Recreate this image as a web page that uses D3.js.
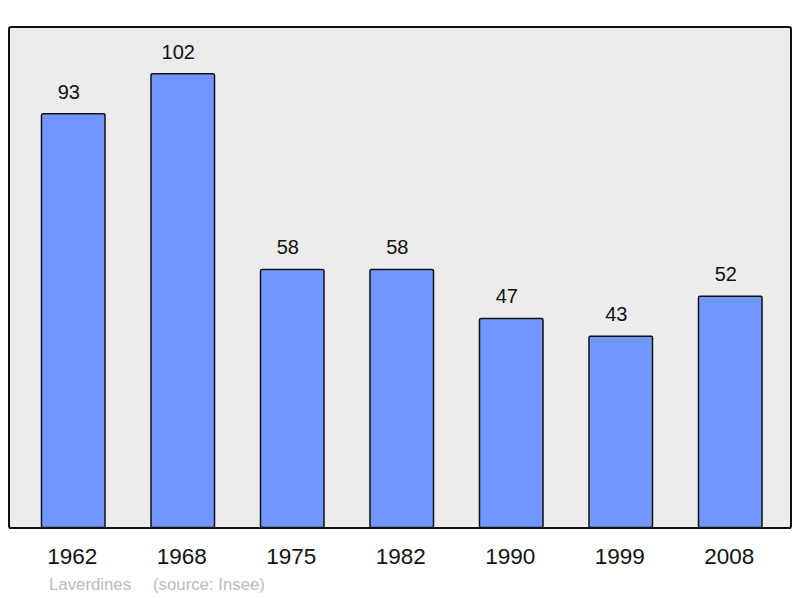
<!DOCTYPE html>
<html>
<head>
<meta charset="utf-8">
<script src="https://cdn.jsdelivr.net/npm/d3@7"></script>
<style>
  body { margin: 0; background: #fff; }
  text { font-family: "Liberation Sans", Arial, sans-serif; }
</style>
</head>
<body>
<script>
// data
var years = ["1962", "1968", "1975", "1982", "1990", "1999", "2008"];
var population = [93, 102, 58, 58, 47, 43, 52];
var commune = "Laverdines";
var source = "(source: Insee)";

var W = 800, H = 598;
var frame = {left: 9, top: 27, right: 791, bottom: 528};

var svg = d3.select("body").append("svg")
    .attr("width", W)
    .attr("height", H);

// plot frame
svg.append("rect")
    .attr("x", frame.left)
    .attr("y", frame.top)
    .attr("width", frame.right - frame.left)
    .attr("height", frame.bottom - frame.top)
    .attr("rx", 2)
    .style("fill", "#ececec")
    .style("stroke", "#111")
    .style("stroke-width", 2);

var x = d3.scaleBand()
    .domain(years)
    .range([18.5, 785])
    .paddingInner(0.42)
    .paddingOuter(0.21);

var y = d3.scaleLinear()
    .domain([0, 112.5])
    .range([527.5, 27]);

var rows = years.map(function(d, i) { return {year: d, value: population[i]}; });

svg.selectAll("rect.bar")
    .data(rows)
    .enter().append("rect")
    .attr("class", "bar")
    .attr("x", function(d) { return x(d.year); })
    .attr("y", function(d) { return y(d.value); })
    .attr("width", x.bandwidth())
    .attr("height", function(d) { return y(0) - y(d.value); })
    .attr("rx", 1.5)
    .style("fill", "#7298ff")
    .style("stroke", "#111")
    .style("stroke-width", 1.5);

// value labels (sit a little left of the bar centre)
svg.selectAll("text.val")
    .data(rows)
    .enter().append("text")
    .attr("class", "val")
    .attr("x", function(d) { return x(d.year) + x.bandwidth() / 2 - 4.5; })
    .attr("y", function(d) { return y(d.value) - 15; })
    .attr("text-anchor", "middle")
    .style("font-size", "20px")
    .style("fill", "#111")
    .text(function(d) { return d.value; });

// redraw the bottom edge on top of the bars
svg.append("line")
    .attr("x1", frame.left).attr("x2", frame.right)
    .attr("y1", frame.bottom).attr("y2", frame.bottom)
    .style("stroke", "#111")
    .style("stroke-width", 2);

// year axis
var xAxis = svg.append("g")
    .attr("transform", "translate(-1," + frame.bottom + ")")
    .call(d3.axisBottom(x).tickSize(0).tickPadding(36));
xAxis.select(".domain").remove();
xAxis.selectAll("text")
    .attr("dy", 0)
    .style("font-family", "'Liberation Sans', Arial, sans-serif")
    .style("font-size", "22.5px")
    .style("fill", "#111");

// footer
svg.append("text")
    .attr("x", 49).attr("y", 590)
    .style("font-size", "16.8px")
    .style("fill", "#bbb")
    .text(commune);
svg.append("text")
    .attr("x", 153).attr("y", 590)
    .style("font-size", "16.8px")
    .style("fill", "#bbb")
    .text(source);
</script>
</body>
</html>
